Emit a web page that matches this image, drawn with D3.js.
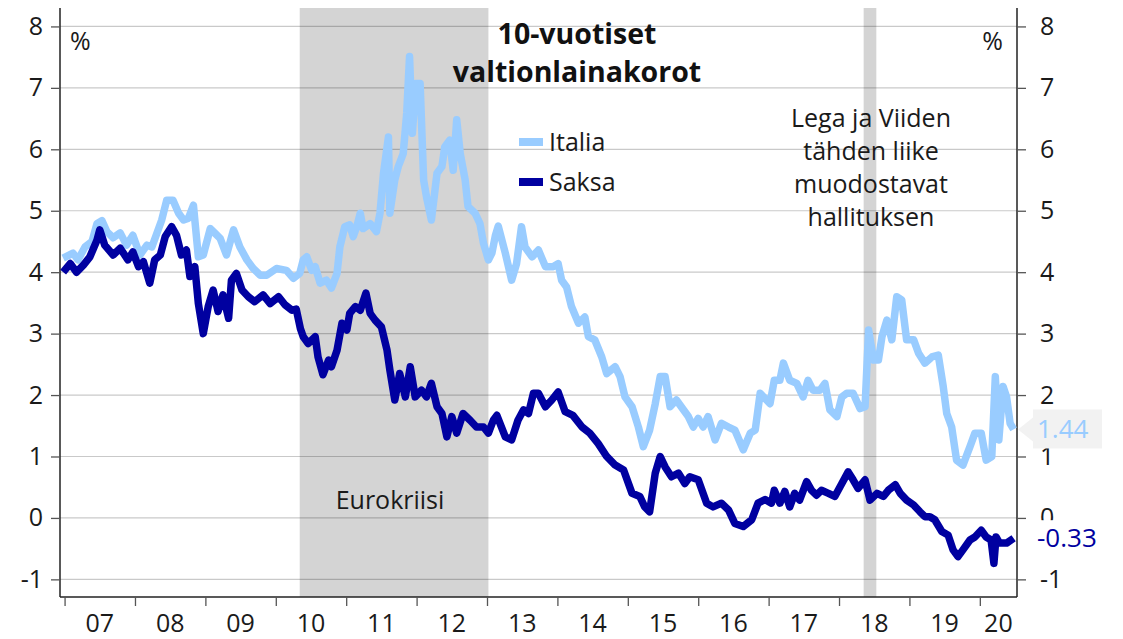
<!DOCTYPE html>
<html>
<head>
<meta charset="utf-8">
<script src="https://cdn.jsdelivr.net/npm/d3@7"></script>
<style>
  body { margin: 0; background: #fff; }
  svg { display: block; font-family: "Open Sans", "Noto Sans", sans-serif; }
  .tick-label { font-size: 25px; fill: #1a1a1a; }
  .note { font-size: 25px; fill: #1a1a1a; }
</style>
</head>
<body>
<div id="chart"></div>
<script>

// Data: [decimal year, yield %]
var italia = [
	[2006.98, 4.23], [2007.12, 4.31], [2007.19, 4.20], [2007.29, 4.41], [2007.39, 4.50],
	[2007.46, 4.79], [2007.53, 4.84], [2007.60, 4.66], [2007.69, 4.56], [2007.79, 4.64],
	[2007.88, 4.44], [2007.97, 4.60], [2008.07, 4.28], [2008.17, 4.44], [2008.24, 4.41],
	[2008.31, 4.63], [2008.38, 4.85], [2008.45, 5.17], [2008.54, 5.17], [2008.62, 4.96],
	[2008.69, 4.85], [2008.76, 4.88], [2008.83, 5.09], [2008.90, 4.25], [2008.97, 4.28],
	[2009.07, 4.71], [2009.14, 4.63], [2009.21, 4.55], [2009.30, 4.28], [2009.40, 4.69],
	[2009.49, 4.41], [2009.59, 4.20], [2009.68, 4.06], [2009.78, 3.95], [2009.87, 3.95],
	[2010.01, 4.06], [2010.15, 4.03], [2010.25, 3.90], [2010.34, 3.98], [2010.39, 4.20],
	[2010.44, 4.25], [2010.51, 4.03], [2010.56, 4.09], [2010.63, 3.82], [2010.72, 3.87],
	[2010.79, 3.74], [2010.87, 3.98], [2010.91, 4.41], [2010.98, 4.74], [2011.05, 4.77],
	[2011.10, 4.58], [2011.15, 4.74], [2011.20, 4.96], [2011.24, 4.71], [2011.34, 4.79],
	[2011.43, 4.66], [2011.48, 4.96], [2011.53, 5.61], [2011.60, 6.20], [2011.62, 4.96],
	[2011.69, 5.50], [2011.74, 5.72], [2011.81, 5.93], [2011.86, 6.59], [2011.90, 7.51],
	[2011.94, 6.26], [2011.99, 7.07], [2012.05, 7.07], [2012.10, 5.50], [2012.14, 5.23],
	[2012.21, 4.85], [2012.29, 5.61], [2012.36, 5.72], [2012.40, 6.04], [2012.47, 6.15],
	[2012.52, 5.66], [2012.57, 6.48], [2012.62, 5.93], [2012.69, 5.50], [2012.73, 5.07],
	[2012.83, 4.96], [2012.90, 4.79], [2012.95, 4.47], [2013.02, 4.20], [2013.07, 4.31],
	[2013.12, 4.60], [2013.16, 4.75], [2013.26, 4.31], [2013.35, 3.87], [2013.42, 4.14],
	[2013.49, 4.74], [2013.54, 4.41], [2013.64, 4.25], [2013.73, 4.36], [2013.83, 4.09],
	[2013.94, 4.09], [2014.01, 4.14], [2014.06, 3.87], [2014.13, 3.76], [2014.20, 3.44],
	[2014.30, 3.17], [2014.39, 3.27], [2014.44, 2.95], [2014.53, 2.90], [2014.63, 2.62],
	[2014.70, 2.35], [2014.82, 2.46], [2014.89, 2.30], [2014.96, 1.97], [2015.06, 1.81],
	[2015.15, 1.48], [2015.22, 1.16], [2015.31, 1.43], [2015.39, 1.86], [2015.46, 2.30],
	[2015.53, 2.30], [2015.60, 1.81], [2015.69, 1.92], [2015.79, 1.76], [2015.86, 1.65],
	[2015.93, 1.48], [2016.00, 1.62], [2016.07, 1.48], [2016.14, 1.65], [2016.24, 1.27],
	[2016.33, 1.54], [2016.43, 1.48], [2016.52, 1.43], [2016.64, 1.11], [2016.74, 1.38],
	[2016.81, 1.43], [2016.88, 2.03], [2016.97, 1.92], [2017.02, 1.86], [2017.08, 2.24],
	[2017.16, 2.24], [2017.21, 2.52], [2017.30, 2.24], [2017.40, 2.19], [2017.49, 1.97],
	[2017.56, 2.24], [2017.63, 2.08], [2017.73, 2.08], [2017.80, 2.19], [2017.87, 1.76],
	[2017.97, 1.65], [2018.04, 1.97], [2018.11, 2.03], [2018.20, 2.03], [2018.30, 1.78],
	[2018.37, 1.81], [2018.42, 3.06], [2018.49, 2.57], [2018.56, 2.57], [2018.61, 2.95],
	[2018.68, 3.22], [2018.75, 2.90], [2018.82, 3.60], [2018.89, 3.55], [2018.96, 2.90],
	[2019.06, 2.90], [2019.13, 2.68], [2019.22, 2.52], [2019.32, 2.62], [2019.41, 2.65],
	[2019.48, 2.14], [2019.53, 1.70], [2019.60, 1.48], [2019.67, 0.94], [2019.76, 0.86],
	[2019.86, 1.16], [2019.93, 1.38], [2020.02, 1.38], [2020.09, 0.94], [2020.17, 1.00],
	[2020.22, 2.30], [2020.27, 1.27], [2020.33, 2.14], [2020.38, 1.97], [2020.43, 1.54],
	[2020.48, 1.44]
];

var saksa = [
	[2006.98, 4.00], [2007.08, 4.14], [2007.17, 4.00], [2007.27, 4.12], [2007.36, 4.25],
	[2007.46, 4.52], [2007.50, 4.69], [2007.57, 4.44], [2007.69, 4.28], [2007.79, 4.39],
	[2007.90, 4.20], [2007.97, 4.33], [2008.05, 4.09], [2008.12, 4.17], [2008.21, 3.82],
	[2008.28, 4.20], [2008.36, 4.28], [2008.43, 4.58], [2008.52, 4.74], [2008.59, 4.60],
	[2008.66, 4.28], [2008.73, 4.36], [2008.78, 3.93], [2008.85, 4.09], [2008.90, 3.49],
	[2008.97, 3.00], [2009.04, 3.44], [2009.11, 3.71], [2009.18, 3.36], [2009.25, 3.63],
	[2009.33, 3.25], [2009.37, 3.87], [2009.44, 3.98], [2009.52, 3.71], [2009.61, 3.60],
	[2009.70, 3.52], [2009.82, 3.63], [2009.92, 3.49], [2010.04, 3.60], [2010.13, 3.47],
	[2010.23, 3.38], [2010.29, 3.40], [2010.35, 3.08], [2010.39, 2.95], [2010.46, 2.84],
	[2010.56, 2.95], [2010.60, 2.62], [2010.67, 2.33], [2010.75, 2.57], [2010.79, 2.46],
	[2010.87, 2.73], [2010.94, 3.17], [2011.01, 3.06], [2011.05, 3.33], [2011.13, 3.44],
	[2011.20, 3.38], [2011.28, 3.66], [2011.34, 3.33], [2011.41, 3.22], [2011.50, 3.11],
	[2011.58, 2.73], [2011.62, 2.41], [2011.69, 1.92], [2011.76, 2.35], [2011.84, 1.97],
	[2011.91, 2.46], [2011.98, 1.97], [2012.07, 2.08], [2012.14, 1.97], [2012.21, 2.19],
	[2012.29, 1.81], [2012.36, 1.70], [2012.43, 1.32], [2012.50, 1.65], [2012.57, 1.38],
	[2012.66, 1.70], [2012.76, 1.59], [2012.85, 1.48], [2012.95, 1.48], [2013.02, 1.38],
	[2013.09, 1.59], [2013.14, 1.67], [2013.26, 1.32], [2013.35, 1.27], [2013.44, 1.59],
	[2013.52, 1.76], [2013.59, 1.70], [2013.66, 2.03], [2013.73, 2.03], [2013.83, 1.81],
	[2013.92, 1.92], [2014.01, 2.05], [2014.11, 1.73], [2014.22, 1.67], [2014.35, 1.48],
	[2014.46, 1.38], [2014.58, 1.21], [2014.70, 1.00], [2014.82, 0.86], [2014.94, 0.78],
	[2015.06, 0.40], [2015.17, 0.35], [2015.24, 0.18], [2015.31, 0.10], [2015.39, 0.73],
	[2015.46, 1.00], [2015.53, 0.83], [2015.62, 0.67], [2015.72, 0.73], [2015.81, 0.56],
	[2015.88, 0.67], [2016.00, 0.62], [2016.12, 0.24], [2016.21, 0.18], [2016.33, 0.24],
	[2016.43, 0.13], [2016.52, -0.09], [2016.64, -0.14], [2016.76, -0.03], [2016.85, 0.24],
	[2016.95, 0.30], [2017.04, 0.24], [2017.08, 0.45], [2017.16, 0.24], [2017.23, 0.43],
	[2017.30, 0.18], [2017.37, 0.40], [2017.44, 0.29], [2017.54, 0.59], [2017.61, 0.45],
	[2017.68, 0.37], [2017.75, 0.45], [2017.85, 0.40], [2017.94, 0.35], [2018.04, 0.56],
	[2018.13, 0.75], [2018.20, 0.62], [2018.27, 0.48], [2018.37, 0.62], [2018.44, 0.29],
	[2018.54, 0.40], [2018.63, 0.35], [2018.70, 0.45], [2018.80, 0.54], [2018.87, 0.40],
	[2018.96, 0.29], [2019.06, 0.21], [2019.15, 0.10], [2019.22, 0.02], [2019.29, 0.02],
	[2019.36, -0.03], [2019.46, -0.22], [2019.55, -0.28], [2019.62, -0.52], [2019.69, -0.63],
	[2019.76, -0.52], [2019.86, -0.36], [2019.93, -0.31], [2020.02, -0.20], [2020.09, -0.31],
	[2020.16, -0.36], [2020.20, -0.74], [2020.23, -0.31], [2020.28, -0.41], [2020.38, -0.41],
	[2020.48, -0.33]
];

// shaded periods
var periods = [[2010.34, 2013.02], [2018.35, 2018.53]];

var yTicks = [-1, 0, 1, 2, 3, 4, 5, 6, 7, 8];
var years = [2007, 2008, 2009, 2010, 2011, 2012, 2013, 2014, 2015, 2016, 2017, 2018, 2019, 2020];
var yearLabels = ["07", "08", "09", "10", "11", "12", "13", "14", "15", "16", "17", "18", "19", "20"];

var lastItalia = "1.44";
var lastSaksa = "-0.33";

var colorItalia = "#99ccff";
var colorSaksa = "#0000a0";

var margin = { top: 8, right: 106, bottom: 42, left: 60 };
var width = 1123 - margin.left - margin.right,
	height = 639 - margin.top - margin.bottom;

var svg = d3.select("#chart").append("svg")
	.attr("width", 1123)
	.attr("height", 639);

var g = svg.append("g")
	.attr("transform", "translate(" + margin.left + "," + margin.top + ")");

// Scales
var x = d3.scaleLinear()
	.domain([2006.935, 2020.528])
	.range([0, width]);

var y = d3.scaleLinear()
	.domain([-1.287, 8.3])
	.range([height, 0]);

// plain hyphen for negatives, as in the original
var fmt = function (d) { return d < 0 ? "-" + Math.abs(d) : String(d); };

// Shaded periods
g.selectAll(".period")
	.data(periods)
	.enter().append("rect")
	.attr("class", "period")
	.attr("x", function (d) { return x(d[0]); })
	.attr("width", function (d) { return x(d[1]) - x(d[0]); })
	.attr("y", 0)
	.attr("height", height)
	.attr("fill", "#d4d4d4");

// Gridlines
g.append("g")
	.selectAll("line")
	.data(yTicks)
	.enter().append("line")
	.attr("x1", 0)
	.attr("x2", width)
	.attr("y1", function (d) { return y(d); })
	.attr("y2", function (d) { return y(d); })
	.attr("stroke", "rgba(0,0,0,0.21)")
	.attr("stroke-width", 1.2);

// Axes
var leftAxis = d3.axisLeft(y).tickValues(yTicks).tickSize(9).tickFormat(fmt);
var rightAxis = d3.axisRight(y).tickValues(yTicks).tickSize(9).tickFormat(fmt);
var bottomAxis = d3.axisBottom(x).tickValues(years).tickSize(9).tickFormat("");

function styleAxis(sel) {
	sel.select(".domain").attr("stroke", "#222").attr("stroke-width", 1.5);
	sel.selectAll(".tick line").attr("stroke", "#555").attr("stroke-width", 1.3);
	sel.selectAll(".tick text")
		.attr("class", "tick-label");
	sel.attr("font-family", null).attr("font-size", null);
}

var gl = g.append("g").call(leftAxis.tickPadding(8));
styleAxis(gl);
gl.select(".domain").attr("d", "M0," + height + "V0");

var gr = g.append("g").attr("transform", "translate(" + width + ",0)").call(rightAxis.tickPadding(14));
styleAxis(gr);
gr.select(".domain").attr("d", "M0," + height + "V0");

var gb = g.append("g").attr("transform", "translate(0," + height + ")").call(bottomAxis);
styleAxis(gb);
gb.select(".domain").attr("d", "M0,0H" + width);

// year labels centered in each year
g.append("g")
	.selectAll("text")
	.data(years)
	.enter().append("text")
	.attr("class", "tick-label")
	.attr("text-anchor", "middle")
	.attr("x", function (d) { return (x(d) + Math.min(x(d + 1), width)) / 2; })
	.attr("y", height + 35)
	.text(function (d, i) { return yearLabels[i]; });

// Lines
var line = d3.line()
	.x(function (d) { return x(d[0]); })
	.y(function (d) { return y(d[1]); });

g.append("path")
	.datum(italia)
	.attr("d", line)
	.attr("fill", "none")
	.attr("stroke", colorItalia)
	.attr("stroke-width", 7.5)
	.attr("stroke-linejoin", "round");

g.append("path")
	.datum(saksa)
	.attr("d", line)
	.attr("fill", "none")
	.attr("stroke", colorSaksa)
	.attr("stroke-width", 7.5)
	.attr("stroke-linejoin", "round");

// End value labels
var endI = italia[italia.length - 1], endS = saksa[saksa.length - 1];
var yi = y(endI[1]), ys = y(endS[1]);

g.append("path")
	.attr("d", "M" + (width + 1) + "," + yi + "L" + (width + 16) + "," + (yi - 12) + "V" + (yi + 12) + "Z")
	.attr("fill", "#f2f2f2");
g.append("rect")
	.attr("x", width + 16).attr("y", yi - 20)
	.attr("width", 69).attr("height", 39)
	.attr("fill", "#f2f2f2");
g.append("text")
	.attr("x", width + 20).attr("y", yi + 9)
	.attr("font-size", 26)
	.attr("fill", colorItalia)
	.text(lastItalia);

g.append("rect")
	.attr("x", width + 14).attr("y", ys - 18)
	.attr("width", 72).attr("height", 38)
	.attr("fill", "#fff");
g.append("text")
	.attr("x", width + 20).attr("y", ys + 9)
	.attr("font-size", 26)
	.attr("fill", colorSaksa)
	.text(lastSaksa);

// Percent signs
svg.append("text").attr("class", "note").attr("x", 70).attr("y", 50).text("%");
svg.append("text").attr("class", "note").attr("x", 1003).attr("y", 50)
	.attr("text-anchor", "end").text("%");

// Title
var title = svg.append("text")
	.attr("text-anchor", "middle")
	.attr("font-size", 28.5)
	.attr("font-weight", 700)
	.attr("fill", "#111");
title.append("tspan").attr("x", 577).attr("y", 44).text("10-vuotiset");
title.append("tspan").attr("x", 577).attr("y", 82).text("valtionlainakorot");

// Legend
var legend = [["Italia", colorItalia], ["Saksa", colorSaksa]];
var lg = svg.append("g").selectAll("g")
	.data(legend)
	.enter().append("g")
	.attr("transform", function (d, i) { return "translate(519," + (142 + i * 40) + ")"; });
lg.append("rect")
	.attr("x", 0).attr("y", -4)
	.attr("width", 24).attr("height", 8)
	.attr("fill", function (d) { return d[1]; });
lg.append("text")
	.attr("class", "note")
	.attr("x", 30).attr("y", 9)
	.text(function (d) { return d[0]; });

// Annotations
var ann = svg.append("text")
	.attr("class", "note")
	.attr("font-size", 26)
	.attr("text-anchor", "middle");
["Lega ja Viiden", "tähden liike", "muodostavat", "hallituksen"].forEach(function (t, i) {
	ann.append("tspan").attr("x", 871).attr("y", 127 + i * 33).text(t);
});

svg.append("text")
	.attr("class", "note")
	.attr("text-anchor", "middle")
	.attr("x", 390).attr("y", 509)
	.text("Eurokriisi");

</script>
</body>
</html>
